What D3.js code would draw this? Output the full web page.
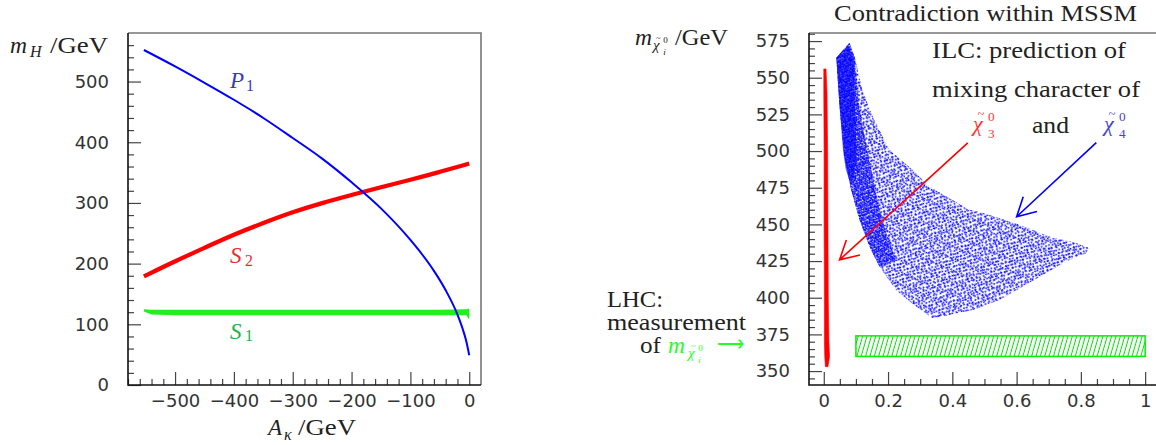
<!DOCTYPE html>
<html>
<head>
<meta charset="UTF-8">
<script src="https://cdnjs.cloudflare.com/ajax/libs/d3/7.8.5/d3.min.js"></script>
<style>
  body { margin: 0; background: #fff; }
  svg { display: block; }
  .axis text { font-family: "DejaVu Sans", sans-serif; font-size: 18px; fill: #333; }
  .axis line { stroke: #444; stroke-width: 1.2; }
</style>
</head>
<body>
<svg id="chart" width="1156" height="445"></svg>
<script>
// ---- left panel: Higgs masses vs A_kappa ----
var p1Ak   = [-553, -500, -450, -400, -350, -300, -250, -200, -150, -100, -80, -60, -40, -20, -10, -5, 0];
var p1Mass = [ 552,  525,  498,  470,  440,  407,  373,  334,  291,  239, 215, 188, 156, 116,  89, 72, 49];

var s2Ak   = [-553, -500, -450, -400, -350, -300, -250, -200, -150, -100, -50, 0];
var s2Mass = [ 179,  204,  226,  248,  267,  285,  300,  313,  326,  338, 351, 365];

var s1Ak   = [-553, -540, -500, -400, -300, -200, -100, -50, -5, 0];
var s1Hi   = [ 125,  124,  124,  124,  124,  124,  124, 124, 125, 126];
var s1Lo   = [ 121,  116,  115,  115,  115,  115,  115, 115, 115, 108];

var leftXMajor = [-500, -400, -300, -200, -100, 0];
var leftXMinor = [-580, -560, -540, -520, -480, -460, -440, -420, -380, -360, -340, -320, -280, -260, -240, -220,
                  -180, -160, -140, -120, -80, -60, -40, -20];
var leftYMajor = [0, 100, 200, 300, 400, 500];
var leftYMinor = [20, 40, 60, 80, 120, 140, 160, 180, 220, 240, 260, 280, 320, 340, 360, 380,
                  420, 440, 460, 480, 520, 540, 560];

// ---- right panel: neutralino masses vs gaugino character ----
var chi3Mass = [556, 540, 500, 450, 400, 370, 360, 353];
var chi3Lo   = [0.000, 0.000, 0.001, 0.001, 0.002, 0.002, 0.003, 0.005];
var chi3Hi   = [0.007, 0.010, 0.012, 0.013, 0.014, 0.016, 0.018, 0.013];

// outline of the chi4 scatter cloud
var chi4OutX = [0.039, 0.080, 0.096, 0.120, 0.152, 0.204, 0.276, 0.329, 0.453, 0.494, 0.609, 0.712, 0.774, 0.827,
                0.816, 0.754, 0.692, 0.619, 0.547, 0.464, 0.339, 0.287, 0.225, 0.173, 0.142, 0.111, 0.085, 0.064, 0.049];
var chi4OutM = [563.6, 573.9, 563.9, 542.0, 523.5, 500.9, 487.3, 475.7, 460.0, 458.0, 449.8, 440.9, 438.1, 433.8,
                430.4, 424.7, 416.8, 407.6, 398.5, 391.7, 386.0, 393.9, 405.3, 421.3, 434.9, 453.2, 473.7, 496.4, 530.6];
// denser left arm
var chi4ArmX = [0.039, 0.080, 0.096, 0.110, 0.128, 0.150, 0.172, 0.195, 0.225, 0.173, 0.142, 0.111, 0.085, 0.064, 0.049];
var chi4ArmM = [563.6, 573.9, 563.9, 530.0, 508.0, 485.0, 462.0, 444.0, 425.0, 421.3, 434.9, 453.2, 473.7, 496.4, 530.6];
// nearly solid core
var chi4CoreX = [0.039, 0.075, 0.095, 0.096, 0.100, 0.102, 0.094, 0.082, 0.068, 0.060, 0.049];
var chi4CoreM = [563.6, 572.0, 563.0, 535.0, 515.0, 495.0, 482.0, 478.0, 488.0, 500.0, 530.6];

var lhcGaugino = [0.1, 1.0];
var lhcMass = [360, 374];

var arrowRed  = [[0.448, 505.6], [0.049, 425.8]];
var arrowBlue = [[0.848, 505.8], [0.600, 455.2]];

var rightXMajor = [0, 0.2, 0.4, 0.6, 0.8, 1];
var rightXMinor = [0.05, 0.1, 0.15, 0.25, 0.3, 0.35, 0.45, 0.5, 0.55, 0.65, 0.7, 0.75, 0.85, 0.9, 0.95];
var rightYMajor = [350, 375, 400, 425, 450, 475, 500, 525, 550, 575];
var rightYMinor = [345, 355, 360, 365, 370, 380, 385, 390, 395, 405, 410, 415, 420, 430, 435, 440, 445,
                   455, 460, 465, 470, 480, 485, 490, 495, 505, 510, 515, 520, 530, 535, 540, 545,
                   555, 560, 565, 570, 580];

var serif = "'Liberation Serif', serif";

var svg = d3.select("#chart");

var xL = d3.scaleLinear().domain([-580, 20]).range([128, 481]);
var yL = d3.scaleLinear().domain([0, 580]).range([385, 33]);
var xR = d3.scaleLinear().domain([-0.046, 1.04]).range([809, 1158]);
var yR = d3.scaleLinear().domain([340.5, 580.5]).range([385, 33]);

var defs = svg.append("defs");
defs.append("clipPath").attr("id", "clipL").append("rect")
    .attr("x", 128).attr("y", 33).attr("width", 353).attr("height", 352);
defs.append("clipPath").attr("id", "clipR").append("rect")
    .attr("x", 809).attr("y", 33).attr("width", 347).attr("height", 352);

// dot textures for the scatter cloud
function dotPattern(id, size, rot, dots) {
  var p = defs.append("pattern").attr("id", id).attr("patternUnits", "userSpaceOnUse")
      .attr("width", size).attr("height", size).attr("patternTransform", "rotate(" + rot + ")");
  dots.forEach(function(d) {
    p.append("rect").attr("x", d[0]).attr("y", d[1]).attr("width", 1.6).attr("height", 1.6).attr("fill", "#0000ff");
  });
}
dotPattern("sparseA", 11, 23, [[0.5,0.8],[4.6,1.9],[7.7,0.3],[2.3,4.1],[6.1,5.2],[8.3,3.6],[0.9,7.4],[3.8,7.9],
                              [6.9,8.1],[9.6,6.3],[2.1,9.6],[9.1,9.4]]);
dotPattern("sparseB", 13, -37, [[1.1,2.0],[5.3,0.6],[9.8,3.1],[3.4,6.2],[7.9,7.5],[11.2,9.9],[0.6,10.8],[5.9,11.4],
                               [10.4,0.2]]);
dotPattern("dense", 7, 31, [[0.2,0.4],[2.6,1.1],[4.5,0.2],[1.3,2.7],[3.7,3.2],[5.2,2.3],[0.4,4.6],[2.4,4.9],
                            [4.6,4.4],[5.8,5.8],[1.5,6.0],[3.5,5.9],[6.0,1.0]]);

var hatch = defs.append("pattern").attr("id", "hatch").attr("patternUnits", "userSpaceOnUse")
    .attr("width", 4.2).attr("height", 10).attr("patternTransform", "rotate(16)");
hatch.append("line").attr("x1", 2).attr("x2", 2).attr("y1", 0).attr("y2", 10)
    .attr("stroke", "#00dd00").attr("stroke-width", 1);

function drawAxes(x, y, xMajor, xMinor, yMajor, yMinor, xFmt, frame) {
  var bottom = frame.y1, left = frame.x0;
  svg.append("g").attr("class", "axis").attr("transform", "translate(0," + bottom + ")")
    .call(d3.axisBottom(x).tickValues(xMinor).tickSize(-6).tickFormat(""))
    .call(function(g) { g.select(".domain").remove(); });
  svg.append("g").attr("class", "axis").attr("transform", "translate(0," + bottom + ")")
    .call(d3.axisBottom(x).tickValues(xMajor).tickSize(-13).tickPadding(9).tickFormat(xFmt))
    .call(function(g) { g.select(".domain").remove(); });
  svg.append("g").attr("class", "axis").attr("transform", "translate(" + left + ",0)")
    .call(d3.axisLeft(y).tickValues(yMinor).tickSize(-6).tickFormat(""))
    .call(function(g) { g.select(".domain").remove(); });
  svg.append("g").attr("class", "axis").attr("transform", "translate(" + left + ",0)")
    .call(d3.axisLeft(y).tickValues(yMajor).tickSize(-13).tickPadding(19))
    .call(function(g) { g.select(".domain").remove(); });
  // frame: top/right grey, left/bottom black
  svg.append("path").attr("d", "M" + frame.x0 + "," + frame.y0 + "H" + frame.x1 + "V" + frame.y1)
    .attr("fill", "none").attr("stroke", "#777").attr("stroke-width", 1.6);
  svg.append("path").attr("d", "M" + frame.x0 + "," + frame.y0 + "V" + frame.y1 + "H" + frame.x1)
    .attr("fill", "none").attr("stroke", "#111").attr("stroke-width", 1.6);
}

// ---------- left panel ----------
var gL = svg.append("g").attr("clip-path", "url(#clipL)");

gL.append("path")
  .datum(s1Ak.map(function(a, i) { return [a, s1Lo[i], s1Hi[i]]; }))
  .attr("fill", "#22ee22")
  .attr("d", d3.area().x(function(d) { return xL(d[0]); })
      .y0(function(d) { return yL(d[1]); }).y1(function(d) { return yL(d[2]); }));

gL.append("path")
  .datum(s2Ak.map(function(a, i) { return [a, s2Mass[i]]; }))
  .attr("fill", "none").attr("stroke", "#ff0000").attr("stroke-width", 4.2)
  .attr("d", d3.line().curve(d3.curveBasis).x(function(d) { return xL(d[0]); }).y(function(d) { return yL(d[1]); }));

gL.append("path")
  .datum(p1Ak.map(function(a, i) { return [a, p1Mass[i]]; }))
  .attr("fill", "none").attr("stroke", "#0000ff").attr("stroke-width", 2)
  .attr("d", d3.line().curve(d3.curveMonotoneX).x(function(d) { return xL(d[0]); }).y(function(d) { return yL(d[1]); }));

drawAxes(xL, yL, leftXMajor, leftXMinor, leftYMajor, leftYMinor, d3.format("d"), {x0: 128, x1: 481, y0: 33, y1: 385});

// ---------- right panel ----------
var gR = svg.append("g").attr("clip-path", "url(#clipR)");
var ring = d3.line().curve(d3.curveLinearClosed)
    .x(function(d) { return xR(d[0]); }).y(function(d) { return yR(d[1]); });
var cloud = chi4OutX.map(function(v, i) { return [v, chi4OutM[i]]; });

gR.append("path").datum(cloud).attr("fill", "url(#sparseA)").attr("d", ring);
gR.append("path").datum(cloud).attr("fill", "url(#sparseB)").attr("d", ring);
gR.append("path").datum(chi4ArmX.map(function(v, i) { return [v, chi4ArmM[i]]; }))
  .attr("fill", "url(#dense)").attr("d", ring);
gR.append("path").datum(chi4CoreX.map(function(v, i) { return [v, chi4CoreM[i]]; }))
  .attr("fill", "#0000ff").attr("fill-opacity", 0.6).attr("d", ring);

var band = chi3Mass.map(function(m, i) { return [chi3Lo[i], m]; })
    .concat(chi3Mass.map(function(m, i) { return [chi3Hi[i], m]; }).reverse());
gR.append("path").datum(band).attr("fill", "#ff0000").attr("stroke", "#ff0000").attr("stroke-width", 0.6).attr("d", ring);

gR.append("rect")
  .attr("x", xR(lhcGaugino[0])).attr("y", yR(lhcMass[1]))
  .attr("width", xR(lhcGaugino[1]) - xR(lhcGaugino[0])).attr("height", yR(lhcMass[0]) - yR(lhcMass[1]))
  .attr("fill", "url(#hatch)").attr("stroke", "#00ee00").attr("stroke-width", 1.5);

function arrow(pts, color) {
  var x1 = xR(pts[0][0]), y1 = yR(pts[0][1]), x2 = xR(pts[1][0]), y2 = yR(pts[1][1]);
  var ang = Math.atan2(y1 - y2, x1 - x2), len = 21, spread = 0.5;
  var d = "M" + x1 + "," + y1 + "L" + x2 + "," + y2 +
    "M" + (x2 + len * Math.cos(ang + spread)) + "," + (y2 + len * Math.sin(ang + spread)) +
    "L" + x2 + "," + y2 +
    "L" + (x2 + len * Math.cos(ang - spread)) + "," + (y2 + len * Math.sin(ang - spread));
  svg.append("path").attr("d", d).attr("fill", "none").attr("stroke", color).attr("stroke-width", 1.6);
}
arrow(arrowRed, "#ff0000");
arrow(arrowBlue, "#0000ff");

drawAxes(xR, yR, rightXMajor, rightXMinor, rightYMajor, rightYMinor, d3.format("~g"), {x0: 809, x1: 1160, y0: 33, y1: 385});

// ---------- text ----------
function tex(x, y, str, o) {
  o = o || {};
  var t = svg.append("text").attr("x", x).attr("y", y)
    .attr("font-family", serif).attr("fill", o.fill || "#222")
    .attr("font-size", o.size || 23).text(str);
  if (o.italic) t.attr("font-style", "italic");
  if (o.anchor) t.attr("text-anchor", o.anchor);
  if (o.len) t.attr("textLength", o.len).attr("lengthAdjust", "spacingAndGlyphs");
  return t;
}
// chi with tilde, superscript and subscript stacked to its right, as one text element
function chiTilde(x, y, size, sub, sup, fill) {
  var t = svg.append("text").attr("font-family", serif).attr("fill", fill);
  t.append("tspan").attr("x", x).attr("y", y).attr("font-size", size).attr("font-style", "italic").text("\u03c7");
  t.append("tspan").attr("x", x + size * 0.2).attr("y", y - size * 0.6).attr("font-size", size * 0.58).text("~");
  t.append("tspan").attr("x", x + size * 0.68).attr("y", y - size * 0.46).attr("font-size", size * 0.6).text(sup);
  t.append("tspan").attr("x", x + size * 0.68).attr("y", y + size * 0.32).attr("font-size", size * 0.6)
    .attr("font-style", isNaN(+sub) ? "italic" : "normal").text(sub);
}

// left
tex(10, 53, "m", {italic: true, len: 17});
tex(30, 57, "H", {italic: true, size: 16});
tex(50, 53, "/GeV", {len: 58});
tex(268, 435, "A", {italic: true});
tex(284, 440, "\u03ba", {italic: true, size: 16});
tex(298, 435, "/GeV", {len: 58});
tex(230, 88, "P", {italic: true, fill: "#3a3ab8"});
tex(246, 91, "1", {size: 16, fill: "#3a3ab8"});
tex(230, 263, "S", {italic: true, fill: "#ee2a2a"});
tex(245, 266, "2", {size: 16, fill: "#ee2a2a"});
tex(230, 339, "S", {italic: true, fill: "#22b04a"});
tex(245, 341, "1", {size: 16, fill: "#22b04a"});

// right
tex(834, 21, "Contradiction within MSSM", {len: 303});
tex(932, 58, "ILC: prediction of", {len: 194});
tex(932, 97, "mixing character of", {len: 208});
tex(1032, 133, "and", {len: 37});
chiTilde(973, 131, 22, "3", "0", "#ff3333");
chiTilde(1104, 131, 22, "4", "0", "#4444cc");

tex(635, 45, "m", {italic: true, len: 17});
chiTilde(653, 50, 15, "i", "0", "#222");
tex(675, 45, "/GeV", {len: 53});

tex(607, 307, "LHC:", {len: 56});
tex(607, 330, "measurement", {len: 139});
tex(640, 353, "of", {len: 21});
tex(668, 353, "m", {italic: true, fill: "#22ff22", len: 17});
chiTilde(688, 358, 15, "i", "0", "#22ff22");
tex(717, 351, "\u27f6", {fill: "#22ff22", len: 27});
</script>
</body>
</html>
